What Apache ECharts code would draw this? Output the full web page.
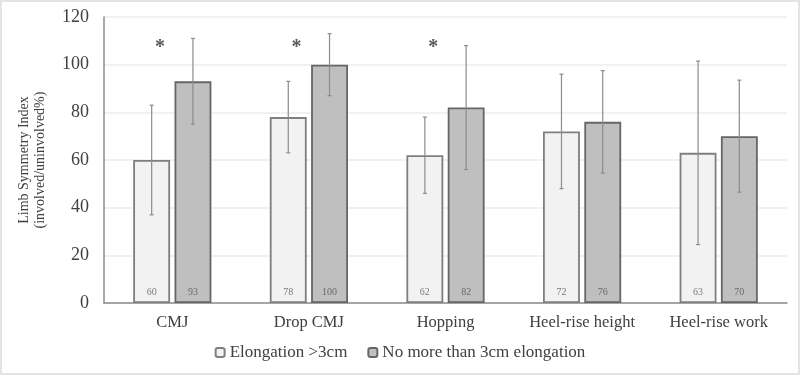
<!DOCTYPE html>
<html lang="en">
<head>
    <meta charset="utf-8">
    <title>Limb Symmetry Index</title>
    <script src="https://cdn.jsdelivr.net/npm/echarts@6/dist/echarts.min.js"></script>
    <style>
        html, body { margin: 0; padding: 0; background: #fff; }
        #main { width: 796px; height: 371px; border: 2px solid #e4e4e4; }
    </style>
</head>
<body>
<div id="main"></div>
<script type="text/javascript">
    // 数据
    var categories = ['CMJ', 'Drop CMJ', 'Hopping', 'Heel-rise height', 'Heel-rise work'];
    var elongMean = [60, 78, 62, 72, 63];
    var elongSd = [23, 15, 16, 24, 38.5];
    var noElongMean = [93, 100, 82, 76, 70];
    var noElongSd = [18, 13, 26, 21.5, 23.5];
    var starCats = [0, 1, 2];
    var yTicks = [0, 20, 40, 60, 80, 100, 120];

    var font = 'Liberation Serif';
    var myChart = echarts.init(document.getElementById('main'));

    function errData(mean, sd) {
        var out = [];
        for (var i = 0; i < mean.length; i++) {
            out.push([i, mean[i] - sd[i], mean[i] + sd[i]]);
        }
        return out;
    }

    // 误差线
    function errSeries(name, data, side) {
        return {
            name: name + ' sd',
            type: 'custom',
            data: data,
            z: 5,
            renderItem: function (params, api) {
                var band = api.size([1, 0])[0];
                var dx = side * band * 0.151;
                var lo = api.coord([api.value(0), api.value(1)]);
                var hi = api.coord([api.value(0), api.value(2)]);
                var x = lo[0] + dx;
                var st = { stroke: '#8c8c8c', lineWidth: 1.2 };
                return {
                    type: 'group',
                    children: [
                        { type: 'line', shape: { x1: x, y1: lo[1], x2: x, y2: hi[1] }, style: st },
                        { type: 'line', shape: { x1: x - 2, y1: lo[1], x2: x + 2, y2: lo[1] }, style: st },
                        { type: 'line', shape: { x1: x - 2, y1: hi[1], x2: x + 2, y2: hi[1] }, style: st }
                    ]
                };
            }
        };
    }

    var option = {
        animation: false,
        textStyle: { fontFamily: font },
        grid: { left: 102, right: 11, top: 15, bottom: 70 },
        legend: {
            bottom: 7,
            left: 'center',
            itemWidth: 9,
            itemHeight: 9,
            itemGap: 20,
            textStyle: { fontFamily: font, fontSize: 17, color: '#404040' },
            data: ['Elongation >3cm', 'No more than 3cm elongation']
        },
        xAxis: {
            type: 'category',
            data: categories,
            axisLine: { lineStyle: { color: '#8c8c8c', width: 1.5 } },
            axisTick: { show: false },
            axisLabel: { interval: 0, fontFamily: font, fontSize: 16.5, color: '#404040', margin: 11 }
        },
        yAxis: {
            type: 'value',
            min: yTicks[0],
            max: yTicks[yTicks.length - 1],
            interval: 20,
            name: 'Limb Symmetry Index\n(involved/uninvolved%)',
            nameLocation: 'middle',
            nameGap: 56,
            nameTextStyle: { fontFamily: font, fontSize: 14, color: '#404040', lineHeight: 16 },
            axisLine: { show: true, lineStyle: { color: '#8c8c8c', width: 1.5 } },
            axisTick: { show: false },
            axisLabel: { fontFamily: font, fontSize: 18, color: '#404040', margin: 15 },
            splitLine: { lineStyle: { color: '#ececec', width: 1.5 } }
        },
        series: [
            {
                name: 'Elongation >3cm',
                type: 'bar',
                data: elongMean,
                barWidth: '27%',
                barGap: '12%',
                itemStyle: { color: '#f2f2f2', borderColor: '#7f7f7f', borderWidth: 1.8 },
                label: {
                    show: true, position: 'insideBottom', distance: 6,
                    fontFamily: font, fontSize: 10, color: '#7a7a7a'
                }
            },
            {
                name: 'No more than 3cm elongation',
                type: 'bar',
                data: noElongMean,
                barWidth: '27%',
                itemStyle: { color: '#bfbfbf', borderColor: '#666666', borderWidth: 1.8 },
                label: {
                    show: true, position: 'insideBottom', distance: 6,
                    fontFamily: font, fontSize: 10, color: '#6a6a6a'
                }
            },
            errSeries('Elongation >3cm', errData(elongMean, elongSd), -1),
            errSeries('No more than 3cm elongation', errData(noElongMean, noElongSd), 1),
            {
                name: 'star',
                type: 'custom',
                data: starCats.map(function (c) { return [c, 107]; }),
                renderItem: function (params, api) {
                    var band = api.size([1, 0])[0];
                    var p = api.coord([api.value(0), api.value(1)]);
                    return {
                        type: 'text',
                        x: p[0] - band * 0.09,
                        y: p[1],
                        style: {
                            text: '*', fontFamily: font, fontSize: 20, fontWeight: 'bold',
                            fill: '#595959', align: 'center', verticalAlign: 'middle'
                        }
                    };
                }
            }
        ]
    };

    myChart.setOption(option);
</script>
</body>
</html>
